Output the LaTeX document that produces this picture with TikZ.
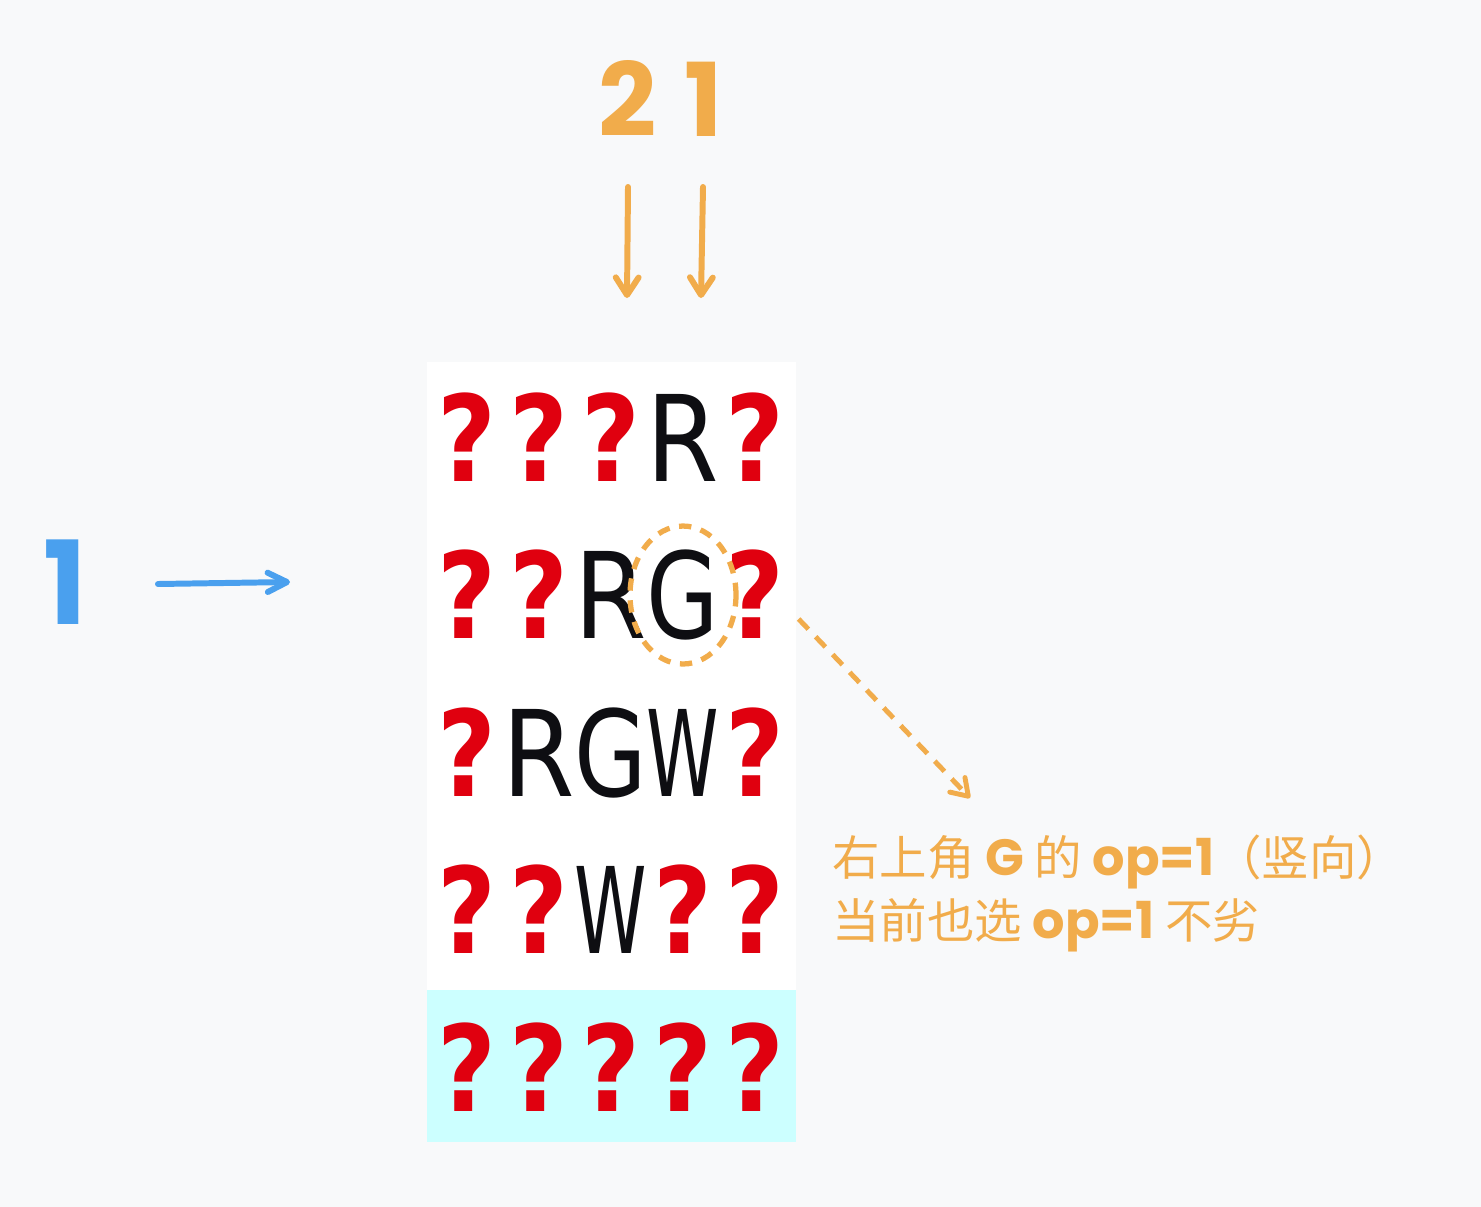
\documentclass[tikz,border=0pt]{standalone}
\usepackage{graphicx}
\usepackage{fontspec}
\usetikzlibrary{calc, positioning, arrows.meta, shapes.geometric}

\newfontfamily\gridfont[FakeStretch=0.85]{DejaVu Sans}
\newfontfamily\notefont{Noto Sans CJK SC}
\newfontfamily\handfont{Poppins}

\definecolor{bgcol}{HTML}{F8F9FA}
\definecolor{lastrow}{HTML}{CCFFFF}
\definecolor{qred}{HTML}{E0000F}
\definecolor{inkblack}{HTML}{0E0E12}
\definecolor{penorange}{HTML}{F1AC4B}
\definecolor{penblue}{HTML}{4AA0EE}

% red bold ? for unknown cells, narrow black letter otherwise
\newcommand\cellglyph[1]{\if?#1\textcolor{qred}{\bfseries ?}\else\textcolor{inkblack}{\resizebox{1.45cm}{\height}{#1}}\fi}
\newcommand\latinbit[1]{{\handfont\bfseries\fontsize{29}{36}\selectfont #1}}

\begin{document}
\begin{tikzpicture}[x=0.02cm, y=-0.02cm, >=latex,
  cell/.style={anchor=base, inner sep=0pt, font=\gridfont\fontsize{68}{70}\selectfont},
  hand/.style={inner sep=0pt, font=\handfont\bfseries\fontsize{58}{60}\selectfont},
  note/.style={anchor=base west, inner sep=0pt, text=penorange, font=\notefont\fontsize{27}{36}\selectfont},
  ring/.style={ellipse, draw=penorange, line width=3pt, dash pattern=on 7pt off 5.5pt,
    minimum width=2.12cm, minimum height=2.76cm, inner sep=0pt},
  downarrow/.style={draw=penorange, line width=3.4pt, line cap=round,
    -{Straight Barb[length=10pt, width=13pt, round]}},
  rightarrow/.style={draw=penblue, line width=3.4pt, line cap=round,
    -{Straight Barb[length=11pt, width=11pt, round]}},
  pointer/.style={draw=penorange, line width=2.8pt, dash pattern=on 8pt off 6pt,
    -{Straight Barb[length=9pt, width=12pt, round]}}]

  \fill[bgcol] (0,0) rectangle (1481,1207);
  \useasboundingbox (0,0) rectangle (1481,1207);

  % board
  \fill[white] (427,362) rectangle (796,990);
  \fill[lastrow] (427,990) rectangle (796,1142);
  \foreach \cells [count=\r] in {{?,?,?,R,?},{?,?,R,G,?},{?,R,G,W,?},{?,?,W,?,?},{?,?,?,?,?}}
    \foreach \ch [count=\c] in \cells
      \node[cell] (c\r\c) at ({395+72*\c},{323.5+157.5*\r}) {\cellglyph{\ch}};

  % column hints
  \node[hand, text=penorange] (coltwo) at (628,98) {2};
  \node[hand, text=penorange] (colone) at (704,99) {1};
  \coordinate (twotip) at (627,298);
  \coordinate (onetip) at (701,298);
  \draw[downarrow] ($(coltwo)+(0,89)$) -- (twotip);
  \draw[downarrow] ($(colone)+(-1,88)$) -- (onetip);

  % row hint
  \node[hand, text=penblue, font=\handfont\bfseries\fontsize{66}{68}\selectfont] (rowone) at (65,582) {1};
  \coordinate (rowtip) at (290,582);
  \draw[rightarrow] ($(rowone)+(93,2)$) -- (rowtip);

  % marked cell and note
  \node[ring] (gring) at (c24.center) {};
  \node[note] (note1) at (832,875) {右上角 \latinbit{G} 的 \latinbit{op=1}（竖向）};
  \node[note] (note2) at (832,938) {当前也选 \latinbit{op=1} 不劣};
  \coordinate (notetip) at (970,798);
  \draw[pointer] ($(gring.east)+(60,24)$) -- (notetip);
\end{tikzpicture}
\end{document}
